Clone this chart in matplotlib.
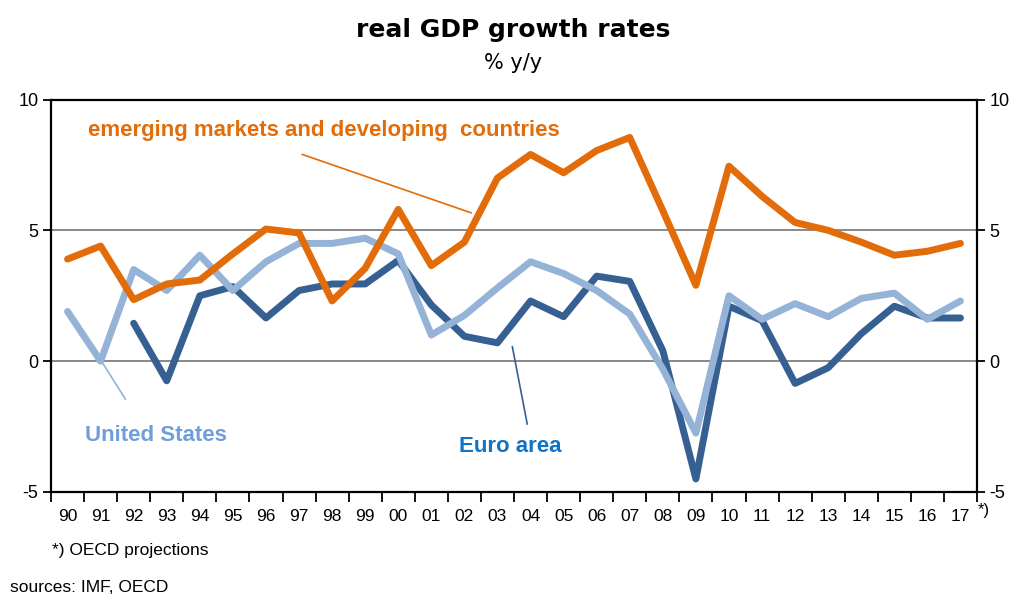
import numpy as np
import matplotlib.pyplot as plt

years = ["90", "91", "92", "93", "94", "95", "96", "97", "98", "99",
         "00", "01", "02", "03", "04", "05", "06", "07", "08", "09",
         "10", "11", "12", "13", "14", "15", "16", "17"]
emerging = [3.9, 4.4, 2.35, 2.95, 3.1, 4.1, 5.05, 4.9, 2.3, 3.55,
            5.8, 3.65, 4.55, 7.0, 7.9, 7.2, 8.05, 8.55, 5.75, 2.9,
            7.45, 6.3, 5.3, 5.0, 4.55, 4.05, 4.2, 4.5]
us = [1.9, 0.0, 3.5, 2.7, 4.05, 2.7, 3.8, 4.5, 4.5, 4.7,
      4.1, 1.0, 1.75, 2.8, 3.8, 3.35, 2.7, 1.8, -0.3, -2.75,
      2.5, 1.6, 2.2, 1.7, 2.4, 2.6, 1.6, 2.3]
euro = [np.nan, np.nan, 1.45, -0.75, 2.5, 2.85, 1.65, 2.7, 2.95, 2.95,
        3.85, 2.15, 0.95, 0.7, 2.3, 1.7, 3.25, 3.05, 0.4, -4.5,
        2.1, 1.55, -0.85, -0.25, 1.05, 2.1, 1.65, 1.65]

ORANGE = "#e36c0a"
DARK = "#376092"
LIGHT = "#95b3d7"
NARROW = ["Liberation Sans Narrow", "Liberation Sans"]

plt.rcParams["font.family"] = ["Liberation Sans", "DejaVu Sans"]

fig = plt.figure(figsize=(10.26, 5.98), dpi=100)
ax = fig.add_axes([51 / 1026, 1 - 492 / 598, 926 / 1026, 392.5 / 598])

x = np.arange(len(years))
ax.axhline(0, color="#808080", lw=1.3, zorder=1)
ax.axhline(5, color="#808080", lw=1.3, zorder=1)
ax.plot(x, euro, color=DARK, lw=5, solid_capstyle="round", solid_joinstyle="round", zorder=3)
ax.plot(x, us, color=LIGHT, lw=5, solid_capstyle="round", solid_joinstyle="round", zorder=4)
ax.plot(x, emerging, color=ORANGE, lw=5, solid_capstyle="round", solid_joinstyle="round", zorder=5)

ax.set_xlim(-0.5, len(years) - 0.5)
ax.set_ylim(-5, 10)
ax.set_yticks([-5, 0, 5, 10])
ax.set_yticklabels(["-5", "0", "5", "10"], fontsize=13)
ax.tick_params(axis="y", direction="out", length=6, width=1.3, right=True,
               labelright=True, pad=3)
ax.set_xticks(np.arange(len(years) + 1) - 0.5)
ax.set_xticklabels([])
ax.set_xticks(x, minor=True)
ax.set_xticklabels(years, minor=True, fontsize=12.5, family=NARROW)
ax.tick_params(axis="x", which="major", direction="out", length=7, width=1.3)
ax.tick_params(axis="x", which="minor", length=0, pad=12)
for s in ax.spines.values():
    s.set_linewidth(1.6)

# series labels with leader lines
ax.text(0.62, 8.8, "emerging markets and developing  countries", color=ORANGE,
        fontsize=16, fontweight="bold", va="center")
ax.plot([7.1, 12.2], [7.9, 5.67], color=ORANGE, lw=1.2, zorder=2)
ax.text(0.53, -2.85, "United States", color="#6f9ed8", fontsize=16,
        fontweight="bold", va="center")
ax.plot([1.05, 1.75], [-0.05, -1.45], color=LIGHT, lw=1.2, zorder=2)
ax.text(11.84, -3.25, "Euro area", color="#1273c6", fontsize=16,
        fontweight="bold", va="center")
ax.plot([13.45, 13.9], [0.55, -2.4], color=DARK, lw=1.2, zorder=2)

fig.text(0.5, 1 - 30 / 598, "real GDP growth rates", ha="center", va="center",
         fontsize=18, fontweight="bold", family="DejaVu Sans")
fig.text(0.5, 1 - 63 / 598, "% y/y", ha="center", va="center", fontsize=15,
         family="DejaVu Sans")
fig.text(978 / 1026, 1 - 511 / 598, "*)", ha="left", va="center", fontsize=12,
         family=NARROW)
fig.text(52 / 1026, 1 - 551 / 598, "*) OECD projections", ha="left", va="center",
         fontsize=12.5, family=NARROW)
fig.text(10 / 1026, 1 - 588 / 598, "sources: IMF, OECD", ha="left", va="center",
         fontsize=12.5, family=NARROW)

fig.savefig("out.png", dpi=100)
